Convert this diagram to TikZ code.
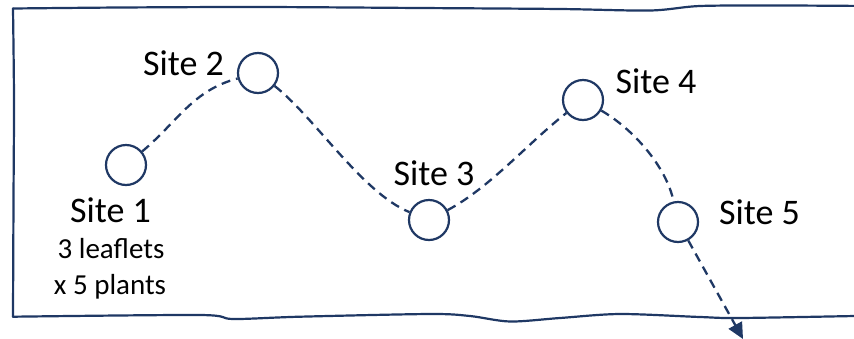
\documentclass[tikz,border=0pt]{standalone}
\usepackage{fontspec}
\setmainfont{Carlito}
\usetikzlibrary{arrows.meta}
\definecolor{navy}{RGB}{31,56,100}
\tikzset{
  site/.style={circle, draw=navy, line width=2.2bp, fill=white, minimum size=40bp, inner sep=0pt},
  biglabel/.style={anchor=base, inner sep=0pt, font=\fontsize{36bp}{43bp}\selectfont},
  smalllabel/.style={anchor=base, inner sep=0pt, font=\fontsize{29bp}{35bp}\selectfont},
  route/.style={draw=navy, line width=2.3bp, dash pattern=on 9bp off 6bp},
  frame/.style={draw=navy, line width=2.2bp, line join=round, line cap=round}
}
\begin{document}
\begin{tikzpicture}[x=1bp,y=-1bp]
\useasboundingbox (0,0) rectangle (854,338);
% hand-drawn frame
\draw[frame] plot[smooth, tension=0.5] coordinates {(13,8.5) (120,7.5) (260,7) (420,8) (560,9) (650,10.5) (700,6) (780,5.5) (870,6)};
\draw[frame] plot[smooth, tension=0.5] coordinates {(13,8.5) (14,100) (13.5,200) (13,316.7)};
\draw[frame] plot[smooth, tension=0.5] coordinates {(13,316.7) (200,315) (233,319) (300,316.7) (430,314) (470,316) (510,321.5) (560,318) (620,314) (700,317) (740,318) (870,315.7)};
% sites
\node[site] (s1) at (126,165) {};
\node[site] (s2) at (258,73) {};
\node[site] (s3) at (429,220) {};
\node[site] (s4) at (583,100) {};
\node[site] (s5) at (678,222) {};
\coordinate (tip) at (743,339);
% route
\draw[route] (s1) to[out=40,in=195] (s2)
  to[out=-38,in=158,looseness=0.7] (s3)
  to[out=28,in=218,looseness=0.8] (s4)
  to[out=-30,in=102,looseness=0.8] (s5);
\draw[route, -{Triangle[length=16bp,width=15bp]}] (s5) -- (tip);
% labels
\node[biglabel] (l1) at (110.5,222) {Site 1};
\node[smalllabel] (l1a) at (111,258) {3 leaflets};
\node[smalllabel] (l1b) at (110,294) {x 5 plants};
\node[biglabel] (l2) at (183.5,75) {Site 2};
\node[biglabel] (l3) at (434,185) {Site 3};
\node[biglabel] (l4) at (656,93) {Site 4};
\node[biglabel] (l5) at (759.5,224) {Site 5};
\end{tikzpicture}
\end{document}
